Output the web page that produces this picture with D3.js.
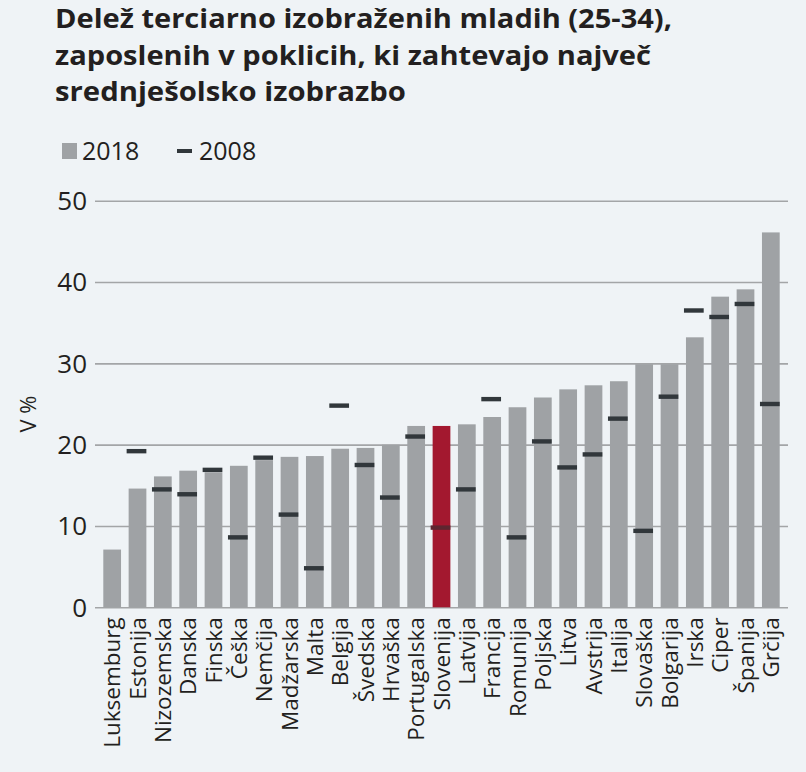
<!DOCTYPE html>
<html>
<head>
<meta charset="utf-8">
<script src="https://cdn.jsdelivr.net/npm/d3@7"></script>
<style>
  html, body { margin: 0; padding: 0; background: #eff3f6; }
  svg { display: block; }
</style>
</head>
<body>
<svg id="chart" width="806" height="772"></svg>
<script>
const titleLines = [
  "Delež terciarno izobraženih mladih (25-34),",
  "zaposlenih v poklicih, ki zahtevajo največ",
  "srednješolsko izobrazbo"
];
const countries = ["Luksemburg","Estonija","Nizozemska","Danska","Finska","Češka","Nemčija","Madžarska","Malta","Belgija","Švedska","Hrvaška","Portugalska","Slovenija","Latvija","Francija","Romunija","Poljska","Litva","Avstrija","Italija","Slovaška","Bolgarija","Irska","Ciper","Španija","Grčija"];
const values2018 = [7.1,14.6,16.1,16.8,16.6,17.4,18.1,18.5,18.6,19.5,19.6,20.0,22.3,22.3,22.5,23.4,24.6,25.8,26.8,27.3,27.8,29.9,29.9,33.2,38.2,39.1,46.1];
const values2008 = [null,19.2,14.5,13.9,16.9,8.6,18.4,11.4,4.8,24.8,17.5,13.5,21.0,9.8,14.5,25.6,8.6,20.4,17.2,18.8,23.2,9.4,25.9,36.5,35.7,37.3,25.0];
const highlight = "Slovenija";
const yTicks = [0,10,20,30,40,50];
const legendLabels = ["2018","2008"];
const yLabel = "V %";

const svg = d3.select("#chart");
const barColor = "#9fa2a5", redColor = "#a3182f", markColor = "#31373b", textColor = "#231f20";

// Title
const titleWidths = [617, 596, 351];
svg.append("g").selectAll("text").data(titleLines).join("text")
  .attr("x", 55).attr("y", (d,i) => 28 + i*36.5)
  .attr("font-family", "'Open Sans', sans-serif").attr("font-weight", 700)
  .attr("font-size", 27).attr("fill", textColor)
  .attr("textLength", (d,i) => titleWidths[i]).attr("lengthAdjust", "spacingAndGlyphs")
  .text(d => d);

// Legend
const lg = svg.append("g").attr("font-family", "'Open Sans', sans-serif").attr("font-size", 25).attr("fill", textColor);
lg.append("rect").attr("x", 62).attr("y", 143).attr("width", 15).attr("height", 16).attr("fill", barColor);
lg.append("text").attr("x", 82).attr("y", 160).attr("fill", textColor).text(legendLabels[0]);
lg.append("rect").attr("x", 177).attr("y", 149).attr("width", 15).attr("height", 4).attr("fill", markColor);
lg.append("text").attr("x", 199).attr("y", 160).attr("fill", textColor).text(legendLabels[1]);

// Scales
const y = d3.scaleLinear().domain([0, 50]).range([607.3, 200.7]);
const x = d3.scaleBand().domain(countries).range([103.3, 779.7]).paddingInner(0.3).paddingOuter(0);
const gridLeft = 95, gridRight = 788;

// Y axis with gridlines
const yAxis = svg.append("g").attr("transform", `translate(${gridLeft},0)`)
  .call(d3.axisLeft(y).tickValues(yTicks).tickSize(-(gridRight - gridLeft)).tickPadding(8).tickFormat(d3.format("d")));
yAxis.select(".domain").remove();
yAxis.selectAll(".tick line").attr("stroke", "#a3a5a7").attr("stroke-width", 1.6);
yAxis.selectAll(".tick text").attr("font-family", "'Open Sans', sans-serif").attr("font-size", 26).attr("fill", textColor).attr("dy", "0.34em");

// Y label
svg.append("text").attr("transform", "translate(36,414) rotate(-90)")
  .attr("text-anchor", "middle").attr("font-family", "'Open Sans', sans-serif").attr("font-size", 22).attr("fill", textColor)
  .text(yLabel);

// Bars
svg.append("g").selectAll("rect").data(countries).join("rect")
  .attr("x", d => x(d)).attr("width", x.bandwidth())
  .attr("y", (d,i) => y(values2018[i])).attr("height", (d,i) => y(0) - y(values2018[i]))
  .attr("fill", d => d === highlight ? redColor : barColor);

// 2008 markers
const markData = countries.map((c,i) => ({c, v: values2008[i]})).filter(d => d.v != null);
svg.append("g").selectAll("rect").data(markData).join("rect")
  .attr("x", d => x(d.c) - 2).attr("width", x.bandwidth() + 2)
  .attr("y", d => y(d.v) - 2.2).attr("height", 4.4)
  .attr("fill", d => d.c === highlight ? "#5e2630" : markColor);

// X axis labels
const xAxis = svg.append("g").attr("transform", `translate(0,${y(0)})`)
  .call(d3.axisBottom(x).tickSize(0).tickPadding(0));
xAxis.select(".domain").remove();
xAxis.selectAll(".tick text")
  .attr("font-family", "'Open Sans', sans-serif").attr("font-size", 22.5).attr("fill", textColor)
  .attr("text-anchor", "end")
  .attr("transform", "translate(0,10) rotate(-90)")
  .attr("x", 0).attr("y", 0).attr("dy", "0.36em");
</script>
</body>
</html>
